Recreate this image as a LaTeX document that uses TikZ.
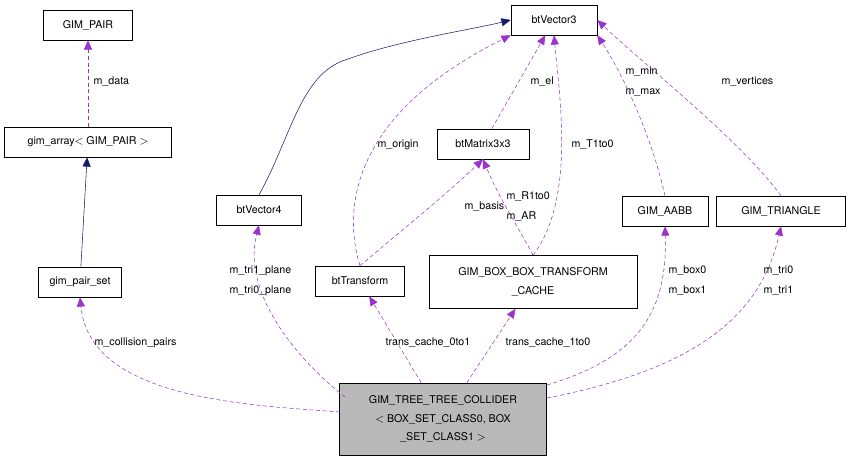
\documentclass[tikz,border=0pt]{standalone}
\usepackage{fontspec}
\setmainfont{TeX Gyre Heros}
\usetikzlibrary{arrows.meta}
\definecolor{memb}{HTML}{9A32CD}
\definecolor{inh}{HTML}{191970}
\tikzset{
	cls/.style={draw,fill=white,inner sep=3pt,minimum height=22.5pt,align=center,font=\fontsize{8}{14}\selectfont},
	use/.style={draw=memb,densely dashed,-{Triangle[length=7pt,width=6pt,fill=memb]}},
	isa/.style={draw=inh,-{Triangle[length=7pt,width=6pt,fill=inh]}},
	lbl/.style={font=\fontsize{8}{15}\selectfont,inner sep=1pt,align=left}
}
\begin{document}
\begin{tikzpicture}[x=0.75pt,y=-0.75pt]
	\useasboundingbox (0,0) rectangle (848,464);
	
	%classes
	\node[cls,minimum width=66.75pt] (pair) at (88,25) {GIM\_PAIR};
	\node[cls,minimum width=125.25pt] (arr) at (88,142) {gim\_array$<$ GIM\_PAIR $>$};
	\node[cls,minimum width=62.25pt] (pset) at (80,282) {gim\_pair\_set};
	\node[cls,minimum width=64.5pt] (v3) at (554,20) {btVector3};
	\node[cls,minimum width=63.75pt] (v4) at (259,210) {btVector4};
	\node[cls,minimum width=69pt] (mat) at (483,144) {btMatrix3x3};
	\node[cls,minimum width=66.75pt] (tr) at (360,281) {btTransform};
	\node[cls,minimum width=156pt,minimum height=39.75pt] (cache) at (533,282) {GIM\_BOX\_BOX\_TRANSFORM\\\_CACHE};
	\node[cls,minimum width=64.5pt] (aabb) at (665,211) {GIM\_AABB};
	\node[cls,minimum width=96.75pt] (tri) at (781,211) {GIM\_TRIANGLE};
	\node[cls,fill=gray!55,minimum width=155.25pt,minimum height=54pt] (coll) at (443,419) {GIM\_TREE\_TREE\_COLLIDER\\$<$ BOX\_SET\_CLASS0, BOX\\\_SET\_CLASS1 $>$};
	\coordinate (cA) at (340,412);
	\coordinate (cB) at (345,397);
	\coordinate (cC) at (547,385);
	\coordinate (cD) at (547,398);
	
	%inheritance
	\draw[isa] (pset) -- (arr);
	\draw[isa] (v4.north) .. controls (290,140) and (300,75) .. (345,60) .. controls (400,40) and (470,30) .. (v3.west);
	
	%members
	\draw[use] (arr) -- (pair);
	\draw[use] (cA) .. controls (250,405) and (90,400) .. (pset.south);
	\draw[use] (cB) .. controls (310,370) and (240,300) .. (v4.south);
	\draw[use] (coll) -- (tr);
	\draw[use] (coll) -- (cache);
	\draw[use] (cC) .. controls (630,360) and (668,320) .. (aabb.south);
	\draw[use] (cD) .. controls (690,370) and (760,320) .. (tri.south);
	\draw[use] (tr.north) .. controls (340,200) and (360,110) .. (v3.south west);
	\draw[use] (tr.north) .. controls (390,240) and (440,200) .. (mat.south);
	\draw[use] (mat) -- (v3);
	\draw[use] (cache.north) .. controls (520,230) and (500,200) .. (mat.south);
	\draw[use] (cache.north) .. controls (575,200) and (560,100) .. (v3.south);
	\draw[use] (aabb.north) .. controls (650,130) and (620,70) .. (v3.south east);
	\draw[use] (tri.north) .. controls (740,140) and (650,70) .. (v3.east);
	
	%labels
	\node[lbl,anchor=west] (lData) at (92,82) {m\_data};
	\node[lbl,anchor=west] (lPairs) at (93,343) {m\_collision\_pairs};
	\node[lbl,anchor=west] (lPlane) at (228,281) {m\_tri1\_plane\\m\_tri0\_plane};
	\node[lbl,anchor=west] (lOrig) at (376,145) {m\_origin};
	\node[lbl,anchor=west] (lEl) at (529,82) {m\_el};
	\node[lbl,anchor=west] (lBasis) at (463,207) {m\_basis};
	\node[lbl,anchor=west] (lR) at (505,207) {m\_R1to0\\m\_AR};
	\node[lbl,anchor=west] (lT) at (570,145) {m\_T1to0};
	\node[lbl,anchor=west] (lMin) at (624,82) {m\_min\\m\_max};
	\node[lbl,anchor=west] (lVert) at (720,82) {m\_vertices};
	\node[lbl,anchor=west] (l01) at (384,343) {trans\_cache\_0to1};
	\node[lbl,anchor=west] (l10) at (504,343) {trans\_cache\_1to0};
	\node[lbl,anchor=west] (lBox) at (667,281) {m\_box0\\m\_box1};
	\node[lbl,anchor=west] (lTri) at (762,281) {m\_tri0\\m\_tri1};
\end{tikzpicture}
\end{document}
